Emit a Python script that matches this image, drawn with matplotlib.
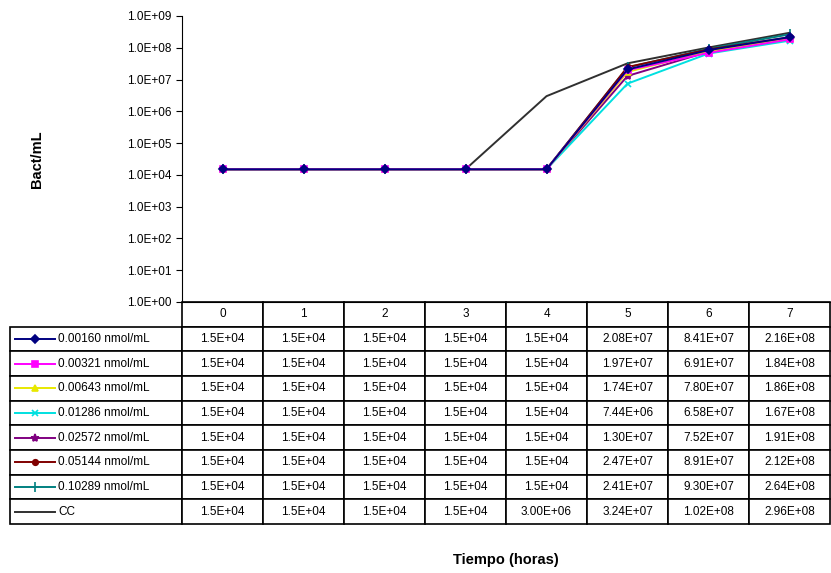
import matplotlib
matplotlib.use("Agg")
import matplotlib.pyplot as plt
from matplotlib.ticker import FixedLocator, FuncFormatter

plt.rcParams['font.family'] = ['Liberation Sans', 'DejaVu Sans']

# datos
horas = ["0", "1", "2", "3", "4", "5", "6", "7"]
series_names = ["0.00160 nmol/mL", "0.00321 nmol/mL", "0.00643 nmol/mL",
                "0.01286 nmol/mL", "0.02572 nmol/mL", "0.05144 nmol/mL",
                "0.10289 nmol/mL", "CC"]
s1 = [1.5e4, 1.5e4, 1.5e4, 1.5e4, 1.5e4, 2.08e7, 8.41e7, 2.16e8]
s2 = [1.5e4, 1.5e4, 1.5e4, 1.5e4, 1.5e4, 1.97e7, 6.91e7, 1.84e8]
s3 = [1.5e4, 1.5e4, 1.5e4, 1.5e4, 1.5e4, 1.74e7, 7.80e7, 1.86e8]
s4 = [1.5e4, 1.5e4, 1.5e4, 1.5e4, 1.5e4, 7.44e6, 6.58e7, 1.67e8]
s5 = [1.5e4, 1.5e4, 1.5e4, 1.5e4, 1.5e4, 1.30e7, 7.52e7, 1.91e8]
s6 = [1.5e4, 1.5e4, 1.5e4, 1.5e4, 1.5e4, 2.47e7, 8.91e7, 2.12e8]
s7 = [1.5e4, 1.5e4, 1.5e4, 1.5e4, 1.5e4, 2.41e7, 9.30e7, 2.64e8]
cc = [1.5e4, 1.5e4, 1.5e4, 1.5e4, 3.00e6, 3.24e7, 1.02e8, 2.96e8]
# texto de la tabla tal como aparece
table_text = [
    ["1.5E+04"] * 5 + ["2.08E+07", "8.41E+07", "2.16E+08"],
    ["1.5E+04"] * 5 + ["1.97E+07", "6.91E+07", "1.84E+08"],
    ["1.5E+04"] * 5 + ["1.74E+07", "7.80E+07", "1.86E+08"],
    ["1.5E+04"] * 5 + ["7.44E+06", "6.58E+07", "1.67E+08"],
    ["1.5E+04"] * 5 + ["1.30E+07", "7.52E+07", "1.91E+08"],
    ["1.5E+04"] * 5 + ["2.47E+07", "8.91E+07", "2.12E+08"],
    ["1.5E+04"] * 5 + ["2.41E+07", "9.30E+07", "2.64E+08"],
    ["1.5E+04"] * 4 + ["3.00E+06", "3.24E+07", "1.02E+08", "2.96E+08"],
]

all_series = [s1, s2, s3, s4, s5, s6, s7, cc]
colors = ["#000080", "#ff00ff", "#e8e800", "#00e0e0", "#800080", "#800000", "#008080", "#303030"]
markers = ["D", "s", "^", "x", "*", "o", "|", None]
msizes = [4, 4, 5, 5, 6, 4, 7, 0]


def main():
    fig = plt.figure(figsize=(8.31, 5.73), dpi=100)
    ax = fig.add_axes([182 / 831, 1 - 302 / 573, 648 / 831, 286 / 573])

    x = list(range(len(horas)))
    # dibujar en orden inverso para que la primera serie quede arriba
    for i in reversed(range(len(all_series))):
        ax.plot(x, all_series[i], color=colors[i], marker=markers[i],
                markersize=msizes[i], linewidth=1.4, markeredgewidth=1.2)

    ax.set_yscale("log")
    ax.set_ylim(1, 1e9)
    ax.set_xlim(-0.5, 7.5)
    ax.yaxis.set_major_locator(FixedLocator([10.0 ** k for k in range(10)]))
    ax.yaxis.set_minor_locator(FixedLocator([]))
    ax.yaxis.set_major_formatter(FuncFormatter(lambda v, p: f"{v:.1E}"))
    ax.tick_params(axis="y", labelsize=8.5, length=4, direction="out")
    ax.set_xticks([])
    for side in ["top", "right"]:
        ax.spines[side].set_visible(False)
    ax.set_ylabel("Bact/mL", fontsize=10.5, fontweight="bold", labelpad=60)

    # tabla de datos (primera columna = nombres de las series)
    row_label_w = 172 / 648
    tbl_h = 222 / 286
    cell_rows = [[name] + vals for name, vals in zip(series_names, table_text)]
    tbl = ax.table(cellText=cell_rows, colLabels=[""] + horas,
                   colWidths=[row_label_w] + [1 / 8] * 8,
                   cellLoc="center", colLoc="center",
                   bbox=[-row_label_w, -tbl_h, 1 + row_label_w, tbl_h])
    tbl.auto_set_font_size(False)
    tbl.set_fontsize(8.5)
    for (r, c), cell in tbl.get_celld().items():
        cell.set_linewidth(1.2)
        if c == 0:
            cell._loc = "left"
            cell.get_text().set_horizontalalignment("left")
            cell.PAD = 0.28
    tbl[0, 0].visible_edges = ""

    # marcadores de la leyenda en la tabla
    nrows = len(series_names) + 1
    row_h = tbl_h / nrows
    for i in range(len(series_names)):
        yc = -(1.5 + i) * row_h
        ax.plot([-0.258, -0.196], [yc, yc], color=colors[i], linewidth=1.4,
                transform=ax.transAxes, clip_on=False)
        if markers[i] is not None:
            ax.plot([-0.227], [yc], color=colors[i], marker=markers[i],
                    markersize=msizes[i], markeredgewidth=1.2,
                    transform=ax.transAxes, clip_on=False)

    fig.text(506 / 831, 1 - 560 / 573, "Tiempo (horas)", fontsize=10.5,
             fontweight="bold", ha="center", va="center")

    fig.savefig("out.png", dpi=100)


if __name__ == "__main__":
    main()
